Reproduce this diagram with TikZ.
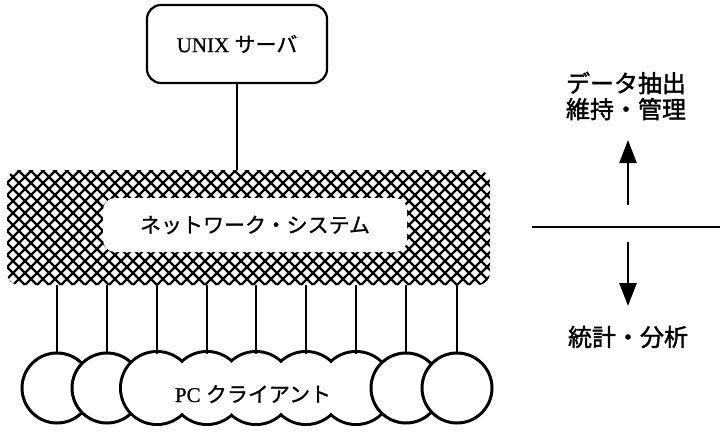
\documentclass[tikz,border=0pt]{standalone}
\usepackage{fontspec}
\setmainfont[FakeBold=0.8,AutoFakeBold=0.8]{Liberation Serif}
\newfontfamily\jp[FakeBold=1]{Noto Sans CJK JP}
\newfontfamily\jpb[FakeBold=1.6]{Noto Sans CJK JP}
\usetikzlibrary{arrows.meta}
\begin{document}
\begin{tikzpicture}[x=1pt,y=-1pt,
  wire/.style={line width=2.2pt},
  hatch/.style={line width=2.2pt},
  srvbox/.style={draw,line width=2.2pt,rounded corners=14pt,minimum width=180pt,minimum height=78pt,inner sep=0pt,font=\fontsize{21}{24}\selectfont},
  pc/.style={circle,draw,fill=white,line width=3pt,minimum size=70pt,inner sep=0pt},
  pcouter/.style={circle,draw,line width=6pt,minimum size=70pt,inner sep=0pt},
  pcfill/.style={circle,fill=white,minimum size=70pt,inner sep=0pt},
  lbl/.style={font=\fontsize{21}{24}\selectfont},
  rlbl/.style={font=\jpb\fontsize{24}{26}\selectfont,align=center,inner sep=0pt},
  bigarrow/.style={line width=2.6pt,-{Triangle[length=23pt,width=17pt]}}]
\useasboundingbox (0,0) rectangle (720,433);

% UNIX server
\node[srvbox] (unix) at (237,44) {UNIX {\jp サーバ}};

% network band (cross-hatched)
\node[minimum width=483pt,minimum height=115pt,inner sep=0pt] (band) at (248.5,227.5) {};
\begin{scope}
  \clip[rounded corners=12pt] (7,170) rectangle (490,285);
  \foreach \a in {-143,-131,...,640} {
    \draw[hatch] (\a,165) -- ++(125,125);
    \draw[hatch] (\a,165) -- ++(-125,125);
  }
\end{scope}
\node[fill=white,rounded corners=12pt,minimum width=304pt,minimum height=54pt,inner sep=0pt,lbl] (net) at (255,225) {\jp ネットワーク・システム};

\draw[wire] (unix.south) -- (unix.south |- band.north);

% PC clients
\node[pc] (c1) at (57,388) {};
\node[pc] (c2) at (107,388) {};
\foreach \i/\x in {3/157,4/207,5/256,6/306,7/356} {
  \node[pcouter] (o\i) at (\x,388) {};
}
\foreach \i/\x in {3/157,4/207,5/256,6/306,7/356} {
  \node[pcfill] (c\i) at (\x,388) {};
}
\node[pc] (c8) at (406,388) {};
\node[pc] (c9) at (457,388) {};
\node[lbl] (pclabel) at (253,394) {PC {\jp クライアント}};

\foreach \i in {1,...,9} {
  \draw[wire] (c\i.north |- band.south) -- ([yshift=-1pt]c\i.north);
}

% right side
\node[rlbl] (up) at (626,96) {データ抽出\\維持・管理};
\coordinate (lineL) at (532,227);
\coordinate (lineR) at (720,227);
\draw[wire] (lineL) -- (lineR);
\coordinate (upS) at (628,205);
\coordinate (upE) at (628,140);
\draw[bigarrow] (upS) -- (upE);
\coordinate (dnS) at (628,242);
\coordinate (dnE) at (628,306);
\draw[bigarrow] (dnS) -- (dnE);
\node[rlbl] (down) at (628,337) {統計・分析};
\end{tikzpicture}
\end{document}
